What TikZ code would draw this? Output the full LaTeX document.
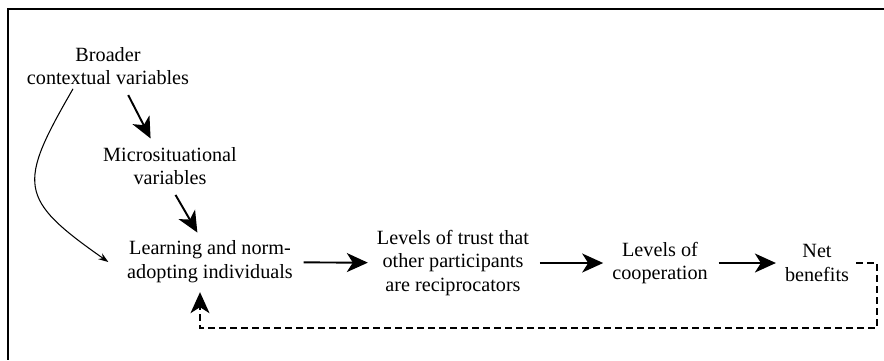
\documentclass[tikz,border=0pt]{standalone}
\usepackage{fontspec}
\setmainfont{Liberation Serif}
\usetikzlibrary{arrows.meta}
\tikzset{box/.style={align=center, inner sep=2pt, font=\fontsize{11.5}{13.5}\selectfont},
 arr/.style={-{Stealth[length=0.42cm,width=0.38cm,inset=0.12cm]}, line width=1.1pt, shorten <=4pt, shorten >=3pt},
 thinarr/.style={-{Stealth[length=0.2cm,width=0.14cm]}, line width=0.6pt},
 fb/.style={arr, dash pattern=on 0.14cm off 0.08cm, line width=0.8pt, shorten <=2pt},
 }

\begin{document}
\begin{tikzpicture}[x=0.02cm,y=-0.02cm]
        \useasboundingbox (0,0) rectangle (884,360);
        \draw [line width=0.8pt] (884,9) -- (8,9) -- (8,360);
        \node[box] (broad) at (108,66) {Broader\\contextual variables};
        \node[box] (micro) at (170,166) {Microsituational\\variables};
        \node[box] (learn) at (210,262) {Learning and norm-\\adopting individuals};
        \node[box] (trust) at (453,263) {Levels of trust that\\other participants\\are reciprocators};
        \node[box] (coop) at (660,263) {Levels of\\cooperation};
        \node[box] (net) at (817,263) {Net\\benefits};
        \coordinate (loop) at (877,328);
        \draw [arr] ([xshift=0.34cm]broad.south) -- ([xshift=-0.34cm]micro.north);
        \draw [arr] ([xshift=0.04cm]micro.south) -- ([xshift=-0.2cm]learn.north);
        \draw [thinarr] ([xshift=-0.7cm]broad.south) to[out=-120, in=145, looseness=1.6] ([xshift=-0.3cm]learn.west);
        \draw [arr] (learn) -- (trust);
        \draw [arr] (trust) -- (coop);
        \draw [arr] (coop) -- (net);
        \draw [fb] (net.east) -| (loop) -| ([xshift=-0.2cm]learn.south);
    \end{tikzpicture}
\end{document}
